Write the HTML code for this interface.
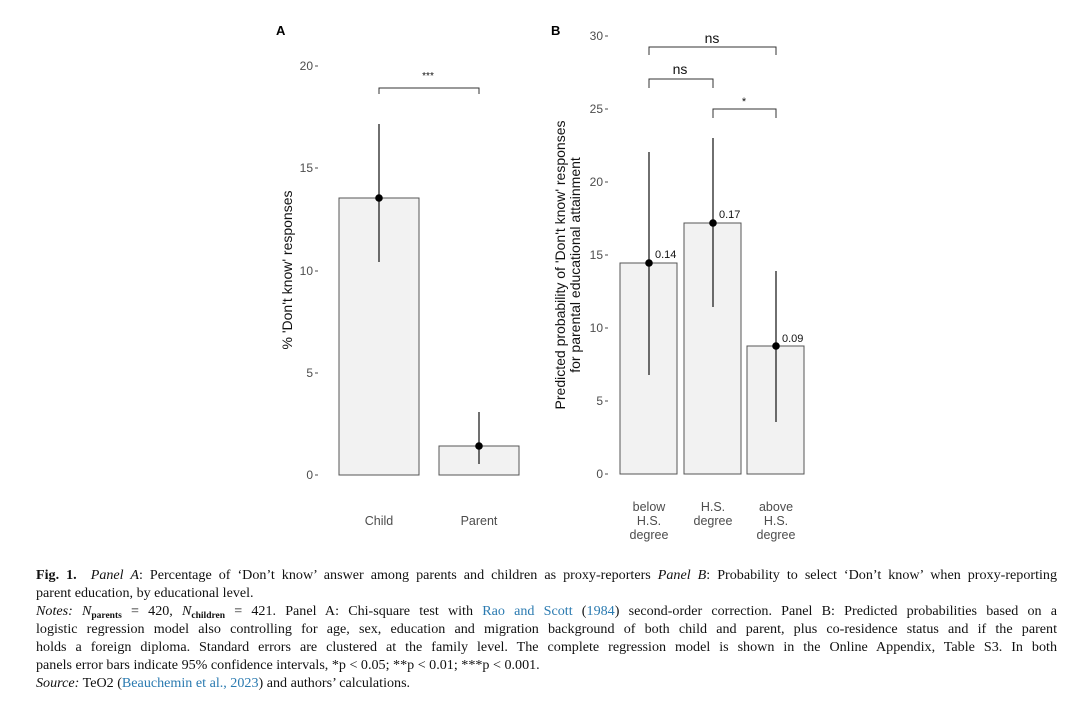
<!DOCTYPE html>
<html><head><meta charset="utf-8"><style>
body{margin:0;background:#fff;width:1076px;height:702px;overflow:hidden;position:relative}
svg{position:absolute;left:0;top:0}
.cap{position:absolute;left:36px;width:1021px;font-family:"Liberation Serif",serif;font-size:14.1px;color:#111;line-height:18px}
.j{text-align:justify;text-align-last:justify;white-space:nowrap;height:18px}
.l{white-space:nowrap;height:18px}
.b{color:#2a7ab0}
sub{font-size:9.5px;vertical-align:-3px;line-height:0}
</style></head><body>
<svg width="1076" height="560" font-family="Liberation Sans, sans-serif">
<g font-size="12" fill="#4d4d4d" text-anchor="end">
<text x="313" y="70">20</text><text x="313" y="172">15</text><text x="313" y="275">10</text><text x="313" y="377">5</text><text x="313" y="479">0</text>
<text x="603" y="40">30</text><text x="603" y="113">25</text><text x="603" y="186">20</text><text x="603" y="259">15</text><text x="603" y="332">10</text><text x="603" y="405">5</text><text x="603" y="478">0</text>
</g>
<g stroke="#4d4d4d" stroke-width="1">
<path d="M315 66h3M315 168h3M315 271h3M315 373h3M315 475h3"/>
<path d="M605 36h3M605 109h3M605 182h3M605 255h3M605 328h3M605 401h3M605 474h3"/>
</g>
<text x="276" y="35" font-size="13" font-weight="bold">A</text>
<text x="551" y="35" font-size="13" font-weight="bold">B</text>
<g fill="#f2f2f2" stroke="#555" stroke-width="1">
<rect x="339" y="198" width="80" height="277"/><rect x="439" y="446" width="80" height="29"/>
<rect x="620" y="263" width="57" height="211"/><rect x="684" y="223" width="57" height="251"/><rect x="747" y="346" width="57" height="128"/>
</g>
<g stroke="#222" stroke-width="1.3">
<line x1="379" y1="124" x2="379" y2="262"/><line x1="479" y1="412" x2="479" y2="464"/>
<line x1="649" y1="152" x2="649" y2="375"/><line x1="713" y1="138" x2="713" y2="307"/><line x1="776" y1="271" x2="776" y2="422"/>
</g>
<g fill="#000"><circle cx="379" cy="198" r="3.8"/><circle cx="479" cy="446" r="3.8"/><circle cx="649" cy="263" r="3.8"/><circle cx="713" cy="223" r="3.8"/><circle cx="776" cy="346" r="3.8"/></g>
<g fill="none" stroke="#333" stroke-width="1">
<polyline points="379,94 379,88 479,88 479,94"/>
<polyline points="649,55 649,47 776,47 776,55"/>
<polyline points="649,88 649,79 713,79 713,88"/>
<polyline points="713,118 713,109 776,109 776,118"/>
</g>
<g font-size="12" fill="#111" text-anchor="middle">
<text x="428" y="79" font-size="10">***</text>
<text x="712" y="43" font-size="14">ns</text>
<text x="680" y="74" font-size="14">ns</text>
<text x="744" y="105" font-size="11">*</text>
</g>
<g font-size="11" fill="#111"><text x="655" y="258">0.14</text><text x="719" y="218">0.17</text><text x="782" y="342">0.09</text></g>
<g font-size="12.5" fill="#4d4d4d" text-anchor="middle">
<text x="379" y="525">Child</text><text x="479" y="525">Parent</text>
<text x="649" y="511">below</text><text x="649" y="525">H.S.</text><text x="649" y="539">degree</text>
<text x="713" y="511">H.S.</text><text x="713" y="525">degree</text>
<text x="776" y="511">above</text><text x="776" y="525">H.S.</text><text x="776" y="539">degree</text>
</g>
<g font-size="14" fill="#111" text-anchor="middle">
<text transform="translate(292,270) rotate(-90)">% 'Don't know' responses</text>
<text transform="translate(565,265) rotate(-90)">Predicted probability of 'Don't know' responses</text>
<text transform="translate(580,265) rotate(-90)">for parental educational attainment</text>
</g>
</svg>
<div class="cap" style="top:566px">
<div class="j"><b>Fig. 1.</b>&nbsp; <i>Panel A</i>: Percentage of ‘Don’t know’ answer among parents and children as proxy-reporters <i>Panel B</i>: Probability to select ‘Don’t know’ when proxy-reporting</div>
<div class="l">parent education, by educational level.</div>
<div class="j"><i>Notes:</i> <i>N</i><sub><b>parents</b></sub> = 420, <i>N</i><sub><b>children</b></sub> = 421. Panel A: Chi-square test with <span class="b">Rao and Scott</span> (<span class="b">1984</span>) second-order correction. Panel B: Predicted probabilities based on a</div>
<div class="j">logistic regression model also controlling for age, sex, education and migration background of both child and parent, plus co-residence status and if the parent</div>
<div class="j">holds a foreign diploma. Standard errors are clustered at the family level. The complete regression model is shown in the Online Appendix, Table S3. In both</div>
<div class="l">panels error bars indicate 95% confidence intervals, *p &lt; 0.05; **p &lt; 0.01; ***p &lt; 0.001.</div>
<div class="l"><i>Source:</i> TeO2 (<span class="b">Beauchemin et al., 2023</span>) and authors’ calculations.</div>
</div>
</body></html>
